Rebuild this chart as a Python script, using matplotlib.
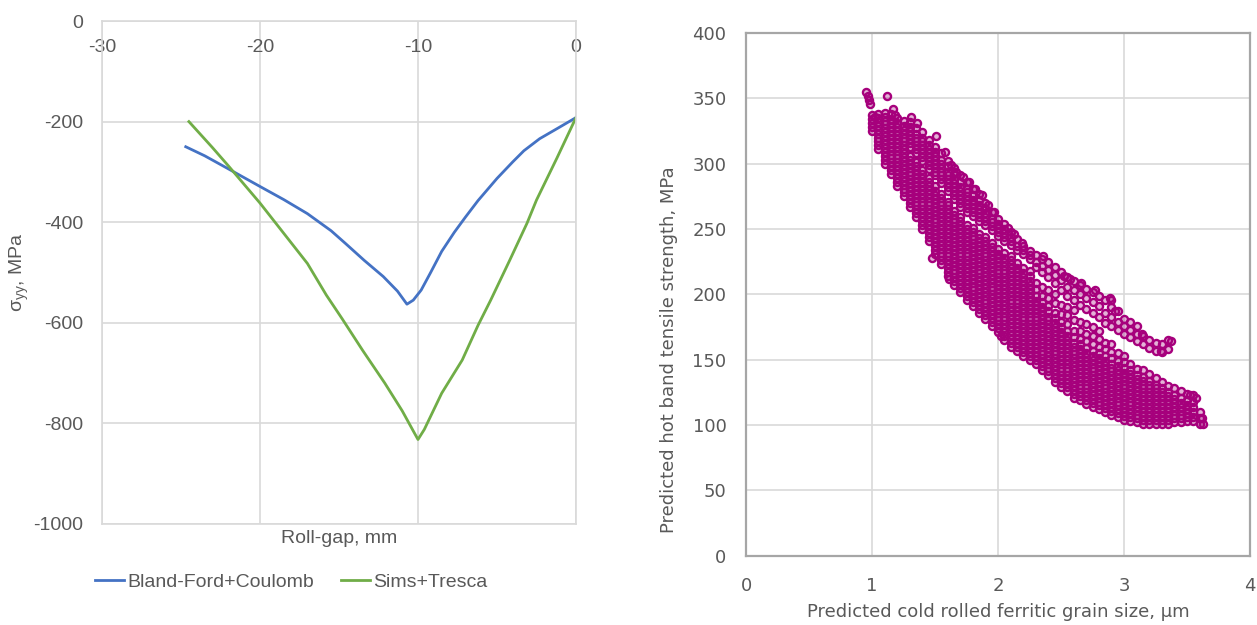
import matplotlib
matplotlib.use('Agg')
import matplotlib.pyplot as plt
from matplotlib.colors import to_rgba

# LEFT PANEL: normal stress along the roll gap
roll_gap_bf = [-24.7, -23.5, -22.0, -20.0, -18.5, -17.0, -15.5, -14.6, -13.4, -12.2, -11.3, -10.7,
               -10.3, -9.8, -9.2, -8.5, -7.7, -7.0, -6.2, -5.0, -4.0, -3.3, -2.3, -1.2, 0.0]
stress_bf = [-250, -268, -294, -329, -355, -383, -417, -442, -476, -508, -537, -563,
             -555, -535, -500, -458, -420, -390, -357, -313, -280, -258, -234, -214, -192]

roll_gap_st = [-24.5, -23.0, -22.0, -20.0, -18.5, -17.0, -15.8, -14.8, -13.5, -12.1, -11.0, -10.3,
               -10.0, -9.6, -8.5, -7.2, -6.2, -5.4, -4.2, -3.1, -2.5, -1.2, 0.0]
stress_st = [-200, -252, -288, -362, -422, -482, -545, -592, -655, -720, -775, -815,
             -832, -812, -740, -674, -605, -555, -476, -402, -356, -272, -192]

# RIGHT PANEL: hot band strength (MPa) read column by column along grain size (um)
grain_columns = [1.00, 1.05, 1.10, 1.15, 1.20, 1.25, 1.30, 1.35, 1.40, 1.45, 1.50, 1.55, 1.60,
                 1.65, 1.70, 1.75, 1.80, 1.85, 1.90, 1.95, 2.00, 2.05, 2.10, 2.15, 2.20, 2.25,
                 2.30, 2.35, 2.40, 2.45, 2.50, 2.55, 2.60, 2.65, 2.70, 2.75, 2.80, 2.85, 2.90,
                 2.95, 3.00, 3.05, 3.10, 3.15, 3.20, 3.25, 3.30, 3.35, 3.40, 3.45, 3.50, 3.55, 3.60]
strength_columns = [
    [325, 328, 331, 334, 337],
    [311, 314, 317, 320, 323, 326, 329, 332, 335, 338],
    [300, 303, 306, 309, 312, 315, 318, 321, 324, 327, 330, 333, 336, 339],
    [292, 295, 298, 301, 304, 307, 310, 313, 316, 319, 322, 325, 328, 331, 334, 338],
    [283, 286, 289, 292, 295, 298, 301, 304, 307, 310, 313, 316, 319, 322, 325, 328, 331, 335],
    [275, 278, 281, 284, 287, 290, 293, 296, 299, 302, 305, 308, 311, 314, 317, 320, 323, 326, 329, 333],
    [267, 270, 273, 276, 279, 282, 285, 288, 291, 294, 297, 300, 303, 306, 313, 316, 319, 322, 325, 328, 332],
    [259, 262, 265, 268, 271, 274, 277, 280, 283, 286, 289, 292, 295, 298, 301, 308, 311, 314, 317, 320,
     323, 327],
    [250, 253, 256, 259, 262, 265, 268, 271, 274, 277, 280, 283, 286, 289, 292, 295, 302, 305, 308, 311,
     314, 317, 320, 324],
    [241, 244, 247, 250, 253, 256, 259, 262, 265, 268, 271, 274, 277, 280, 283, 286, 289, 296, 299, 302,
     305, 308, 311, 314, 318],
    [231, 234, 237, 240, 243, 246, 249, 252, 255, 258, 261, 264, 267, 270, 273, 276, 279, 283, 291, 294,
     297, 300, 303, 306, 309, 313],
    [223, 226, 229, 232, 235, 238, 241, 244, 247, 250, 253, 256, 259, 262, 265, 268, 271, 274, 277, 285,
     288, 291, 294, 297, 300, 303, 308],
    [214, 217, 220, 223, 226, 229, 232, 235, 238, 241, 244, 247, 250, 253, 256, 259, 262, 265, 268, 271,
     279, 282, 285, 288, 291, 294, 298, 302],
    [207, 210, 213, 216, 219, 222, 225, 228, 231, 234, 237, 240, 243, 246, 249, 252, 255, 258, 261, 264,
     273, 276, 279, 282, 285, 288, 292, 297],
    [202, 205, 208, 211, 214, 217, 220, 223, 226, 229, 232, 235, 238, 241, 244, 247, 250, 253, 256, 259,
     267, 270, 273, 276, 279, 282, 286, 291],
    [196, 199, 202, 205, 208, 211, 214, 217, 220, 223, 226, 229, 232, 235, 238, 241, 244, 247, 250, 253,
     263, 266, 269, 272, 275, 278, 281, 286],
    [191, 194, 197, 200, 203, 206, 209, 212, 215, 218, 221, 224, 227, 230, 233, 236, 239, 242, 245, 248,
     251, 260, 263, 266, 269, 272, 276, 281],
    [186, 189, 192, 195, 198, 201, 204, 207, 210, 213, 216, 219, 222, 225, 228, 231, 234, 237, 240, 243,
     246, 256, 259, 262, 265, 268, 272, 277],
    [181, 184, 187, 190, 193, 196, 199, 202, 205, 208, 211, 214, 217, 220, 223, 226, 229, 232, 235, 238,
     241, 244, 253, 256, 259, 262, 266, 270],
    [176, 179, 182, 185, 188, 191, 194, 197, 200, 203, 206, 209, 212, 215, 218, 221, 224, 227, 230, 233,
     236, 239, 249, 252, 255, 258, 263],
    [171, 174, 177, 180, 183, 186, 189, 192, 195, 198, 201, 204, 207, 210, 213, 216, 219, 222, 225, 228,
     231, 235, 245, 248, 251, 254, 258],
    [165, 168, 171, 174, 177, 180, 183, 186, 189, 192, 195, 198, 201, 204, 207, 210, 213, 216, 219, 222,
     225, 228, 232, 241, 244, 247, 250, 254],
    [160, 163, 166, 169, 172, 175, 178, 181, 184, 187, 190, 193, 196, 199, 202, 205, 208, 211, 214, 217,
     220, 223, 226, 229, 238, 241, 244, 248],
    [157, 160, 163, 166, 169, 172, 175, 178, 181, 184, 187, 190, 193, 196, 199, 202, 205, 208, 211, 214,
     217, 220, 224, 234, 237, 242],
    [153, 156, 159, 162, 165, 168, 171, 174, 177, 180, 183, 186, 189, 192, 195, 198, 201, 204, 207, 210,
     213, 216, 220, 231, 234, 237],
    [150, 153, 156, 159, 162, 165, 168, 171, 174, 177, 180, 183, 186, 189, 192, 195, 198, 201, 204, 207,
     210, 214, 218, 227, 230, 233],
    [147, 150, 153, 156, 159, 162, 165, 168, 171, 174, 177, 180, 183, 186, 189, 192, 195, 199, 204, 209,
     221, 225, 230],
    [142, 145, 148, 151, 154, 157, 160, 163, 166, 169, 172, 175, 178, 181, 184, 187, 190, 194, 199, 206,
     217, 222, 227],
    [138, 141, 144, 147, 150, 153, 156, 159, 162, 165, 168, 171, 174, 177, 180, 183, 187, 191, 197, 203,
     213, 219, 225],
    [133, 136, 139, 142, 145, 148, 151, 154, 157, 160, 163, 166, 169, 172, 175, 178, 182, 186, 193, 200,
     209, 215, 221],
    [129, 132, 135, 138, 141, 144, 147, 150, 153, 156, 159, 162, 165, 168, 171, 175, 179, 185, 192, 203,
     211, 217],
    [126, 129, 132, 135, 138, 141, 144, 147, 150, 153, 156, 159, 162, 165, 168, 172, 177, 184, 190, 199,
     206, 213],
    [121, 124, 127, 130, 133, 136, 139, 142, 145, 148, 151, 154, 157, 160, 163, 167, 172, 180, 188, 196,
     203, 210],
    [119, 122, 125, 128, 131, 134, 137, 140, 143, 146, 149, 152, 155, 158, 162, 166, 172, 179, 192, 200, 207],
    [116, 119, 122, 125, 128, 131, 134, 137, 140, 143, 146, 149, 152, 155, 159, 164, 170, 177, 189, 197, 204],
    [114, 117, 120, 123, 126, 129, 132, 135, 138, 141, 144, 147, 150, 153, 157, 162, 168, 175, 186, 194, 202],
    [112, 115, 118, 121, 124, 127, 130, 133, 136, 139, 142, 145, 148, 151, 155, 160, 166, 172, 183, 191, 199],
    [110, 113, 116, 119, 122, 125, 128, 131, 134, 137, 140, 143, 146, 149, 153, 158, 163, 178, 186, 196],
    [108, 111, 114, 117, 120, 123, 126, 129, 132, 135, 138, 141, 144, 147, 151, 156, 162, 176, 183, 190, 196],
    [106, 109, 112, 115, 118, 121, 124, 127, 130, 133, 136, 139, 142, 145, 149, 155, 173, 179, 187],
    [104, 107, 110, 113, 116, 119, 122, 125, 128, 131, 134, 137, 140, 144, 148, 153, 170, 176, 181],
    [103, 106, 109, 112, 115, 118, 121, 124, 127, 130, 133, 136, 139, 142, 147, 167, 173, 179],
    [102, 105, 108, 111, 114, 117, 120, 123, 126, 129, 132, 135, 138, 143, 164, 170, 176],
    [101, 104, 107, 110, 113, 116, 119, 122, 125, 128, 131, 134, 137, 142, 162, 168],
    [101, 104, 107, 110, 113, 116, 119, 122, 125, 128, 131, 134, 139, 159, 165],
    [101, 104, 107, 110, 113, 116, 119, 122, 125, 128, 131, 136, 157, 163],
    [101, 104, 107, 110, 113, 116, 119, 122, 125, 128, 133, 156, 162],
    [101, 104, 107, 110, 113, 116, 119, 122, 125, 130, 158, 165],
    [102, 105, 108, 111, 114, 117, 120, 123, 128],
    [102, 105, 108, 111, 114, 117, 121, 126],
    [103, 106, 109, 112, 115, 119, 124],
    [103, 106, 110, 114, 118, 123],
    [101, 105, 110],
]
# loose points around the edges of the cloud
grain_extra = [0.95, 0.965, 0.975, 0.985, 1.02, 1.12, 1.17, 1.185, 1.31, 1.36, 1.51, 1.58, 1.63,
               1.67, 1.72, 1.77, 1.82, 1.87, 1.92, 1.97, 2.08, 2.13, 2.19, 2.36, 2.52, 2.57, 2.66,
               2.77, 2.89, 2.93, 3.14, 3.29, 3.37, 3.52, 3.57, 3.63, 3.62, 1.48, 1.61, 2.02]
strength_extra = [355, 352, 349, 346, 336, 352, 342, 337, 336, 331, 321, 309, 299,
                  294, 290, 286, 281, 276, 268, 263, 251, 246, 239, 229, 214, 212, 209,
                  203, 197, 187, 170, 157, 164, 123, 121, 101, 105, 228, 212, 168]

TEXT = '#595959'
GRID = '#d9d9d9'
BLUE = '#4472c4'
GREEN = '#70ad47'
MAGENTA = '#a6007c'
W, H = 1257, 625

plt.rcParams['font.family'] = ['Liberation Sans', 'DejaVu Sans']
plt.rcParams['axes.unicode_minus'] = False
fig = plt.figure(figsize=(W / 100, H / 100), dpi=100)

# left chart
ax1 = fig.add_axes([102 / W, (H - 524) / H, 474 / W, 503 / H])
ax1.plot(roll_gap_bf, stress_bf, color=BLUE, lw=2, label='Bland-Ford+Coulomb')
ax1.plot(roll_gap_st, stress_st, color=GREEN, lw=2, label='Sims+Tresca')
ax1.set_xlim(-30, 0)
ax1.set_ylim(-1000, 0)
ax1.set_xticks([-30, -20, -10, 0])
ax1.set_yticks(range(-1000, 1, 200))
ax1.grid(color=GRID, lw=1.2)
ax1.set_axisbelow(True)
for sp in ax1.spines.values():
    sp.set_color(GRID)
    sp.set_linewidth(1.2)
ax1.xaxis.tick_top()
ax1.tick_params(axis='x', length=0, pad=-25, labelsize=14, labelcolor=TEXT)
ax1.tick_params(axis='y', length=0, pad=13.5, labelsize=14, labelcolor=TEXT)
ax1.xaxis.set_label_position('bottom')
ax1.set_xlabel('Roll-gap, mm', fontsize=14, color=TEXT)
ax1.xaxis.set_label_coords(0.5, -0.012)
ax1.set_ylabel('σ$_{\\mathregular{yy}}$, MPa', fontsize=14, color=TEXT)
ax1.yaxis.set_label_coords(-0.15, 0.5)
fig.legend(loc='center', bbox_to_anchor=(291 / W, 1 - 582 / H), ncol=2, frameon=False,
           fontsize=14, handlelength=1.5, handletextpad=0.15, columnspacing=1.4,
           labelcolor=TEXT)

# right chart
grain_pts = [g for g, ys in zip(grain_columns, strength_columns) for _ in ys] + grain_extra
strength_pts = [y for ys in strength_columns for y in ys] + strength_extra

ax2 = fig.add_axes([746 / W, (H - 555.7) / H, 504 / W, 522.7 / H])
# faint face so the overlapping rings close up into a solid cloud
ax2.scatter(grain_pts, strength_pts, s=26, facecolors=to_rgba(MAGENTA, 0.3),
            edgecolors=MAGENTA, linewidths=1.7, zorder=3)
ax2.set_xlim(0, 4)
ax2.set_ylim(0, 400)
ax2.set_xticks(range(0, 5))
ax2.set_yticks(range(0, 401, 50))
ax2.grid(color=GRID, lw=1.2)
ax2.set_axisbelow(True)
for sp in ax2.spines.values():
    sp.set_color('#a6a6a6')
    sp.set_linewidth(1.6)
right_font = dict(family='DejaVu Sans', size=13, color=TEXT)
ax2.tick_params(axis='x', length=0, pad=15, labelsize=13, labelcolor=TEXT)
ax2.tick_params(axis='y', length=0, pad=14, labelsize=13, labelcolor=TEXT)
for lab in ax2.get_xticklabels() + ax2.get_yticklabels():
    lab.set_family('DejaVu Sans')
ax2.set_xlabel('Predicted cold rolled ferritic grain size, µm', **right_font)
ax2.xaxis.set_label_coords(0.5, -0.09)
ax2.set_ylabel('Predicted hot band tensile strength, MPa', **right_font)
ax2.yaxis.set_label_coords(-0.135, 0.395)

fig.savefig('out.png', dpi=100)
